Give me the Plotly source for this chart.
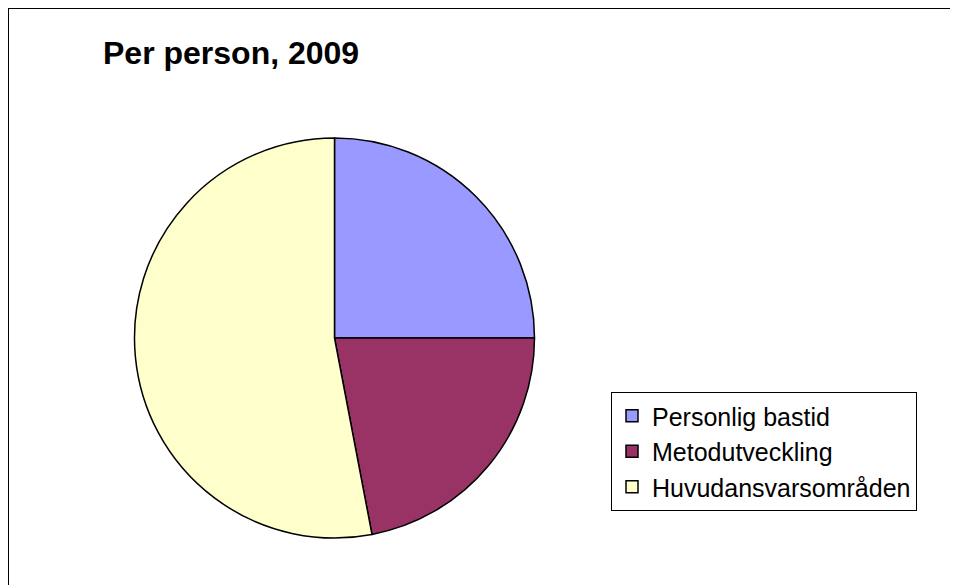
import plotly.graph_objects as go

W, H = 958, 585

LABELS = ["Personlig bastid", "Metodutveckling", "Huvudansvarsområden"]
VALUES = [25, 22, 53]
COLORS = ["#9999FF", "#993366", "#FFFFCC"]
TITLE = "Per person, 2009"

FONT = "Arial, Liberation Sans, sans-serif"

fig = go.Figure()

fig.add_trace(
    go.Pie(
        labels=LABELS,
        values=VALUES,
        sort=False,
        direction="clockwise",
        rotation=0,
        textinfo="none",
        hoverinfo="label+value",
        marker=dict(colors=COLORS, line=dict(color="black", width=1.5)),
        domain=dict(x=[126 / W, 527 / W], y=[1 - 530 / H, 1 - 130 / H]),
    )
)

# chart frame: only the left and top edges show in the original
fig.add_shape(
    type="path",
    xref="paper",
    yref="paper",
    path="M 0,-0.2 L 0,1 L 1.2,1",
    line=dict(color="black", width=2),
)

fig.update_layout(
    width=W,
    height=H,
    paper_bgcolor="white",
    plot_bgcolor="white",
    margin=dict(l=0, r=0, t=0, b=0),
    font=dict(family=FONT, color="black"),
    title=dict(
        text=f"<b>{TITLE}</b>",
        x=95 / W,
        xanchor="left",
        y=1 - 45 / H,
        yanchor="middle",
        font=dict(size=32, family=FONT, color="black"),
    ),
    legend=dict(
        x=603 / W,
        y=1 - 384 / H,
        xanchor="left",
        yanchor="top",
        bordercolor="black",
        borderwidth=1,
        bgcolor="white",
        font=dict(size=25, family=FONT, color="black"),
    ),
)

fig.write_html("out.html")
